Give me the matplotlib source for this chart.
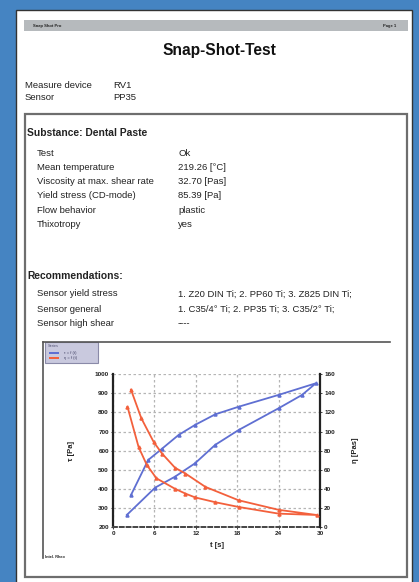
import matplotlib
matplotlib.use("Agg")
import matplotlib.pyplot as plt
from matplotlib.patches import Rectangle

plt.rcParams['font.family'] = ['Liberation Sans', 'DejaVu Sans']

# report text
device_rows = ["Measure device", "Sensor"]
device_vals = ["RV1", "PP35"]
subst_rows = ["Test", "Mean temperature", "Viscosity at max. shear rate",
              "Yield stress (CD-mode)", "Flow behavior", "Thixotropy"]
subst_vals = ["Ok", "219.26 [°C]", "32.70 [Pas]", "85.39 [Pa]", "plastic", "yes"]
rec_rows = ["Sensor yield stress", "Sensor general", "Sensor high shear"]
rec_vals = ["1. Z20 DIN Ti; 2. PP60 Ti; 3. Z825 DIN Ti;",
            "1. C35/4° Ti; 2. PP35 Ti; 3. C35/2° Ti;", "----"]

# chart data
tau_t = [2.0, 6.1, 9.0, 11.9, 14.8, 18.2, 24.0, 27.4, 29.4,
         24.0, 18.2, 14.8, 11.9, 9.5, 7.1, 5.1, 2.6]
tau_val = [263, 406, 464, 534, 630, 708, 822, 892, 953,
           892, 830, 790, 735, 682, 610, 551, 367]
eta_t = [2.6, 4.1, 5.9, 7.1, 9.0, 10.5, 13.4, 18.2, 24.0, 29.5,
         24.0, 18.2, 14.8, 11.9, 10.5, 9.0, 6.3, 4.9, 3.7, 2.1]
eta_val = [144, 114, 89, 77, 62, 56, 42, 28, 18, 12.6,
           14, 21, 26, 31, 35, 40, 51, 65, 84, 126]
x_ticks = [0, 6, 12, 18, 24, 30]
left_ticks = [200, 300, 400, 500, 600, 700, 800, 900, 1000]
right_ticks = [0, 20, 40, 60, 80, 100, 120, 140, 160]

W, H = 419, 582
BLUE = '#5f6fd2'
RED = '#f3603c'
DARK = '#222222'
ROW_FS = 6.8

fig = plt.figure(figsize=(W / 100, H / 100), dpi=100)
fig.patch.set_facecolor('#4584c2')

# page drawn in pixel coordinates
bg = fig.add_axes([0, 0, 1, 1])
bg.set_xlim(0, W)
bg.set_ylim(H, 0)
bg.axis('off')
bg.add_patch(Rectangle((16, 10), 396, 574, facecolor='white', edgecolor='#333333', lw=1))
bg.add_patch(Rectangle((24, 20), 384, 11, facecolor='#b6babd', edgecolor='none'))
bg.text(33, 25.5, "Snap Shot Pro", fontsize=3, fontweight='bold', va='center', color=DARK)
bg.text(396, 25.5, "Page 1", fontsize=3, fontweight='bold', va='center', ha='right', color=DARK)
bg.text(219, 51, "Snap-Shot-Test", fontsize=11.2, fontweight='bold', ha='center', va='center', color='#111111')

for i, (r, v) in enumerate(zip(device_rows, device_vals)):
    bg.text(25, 85 + i * 12, r, fontsize=ROW_FS, va='center', color=DARK)
    bg.text(113, 85 + i * 12, v, fontsize=ROW_FS, va='center', color=DARK)

bg.add_patch(Rectangle((25, 114), 382, 463, facecolor='none', edgecolor='#6e6e6e', lw=1.6))
bg.text(27, 133, "Substance: Dental Paste", fontsize=7.4, fontweight='bold', va='center', color=DARK)
for i, (r, v) in enumerate(zip(subst_rows, subst_vals)):
    bg.text(37, 153 + i * 14.3, r, fontsize=ROW_FS, va='center', color=DARK)
    bg.text(178, 153 + i * 14.3, v, fontsize=ROW_FS, va='center', color=DARK)

bg.text(27, 276, "Recommendations:", fontsize=7.4, fontweight='bold', va='center', color=DARK)
for i, (r, v) in enumerate(zip(rec_rows, rec_vals)):
    bg.text(37, 294 + i * 15, r, fontsize=ROW_FS, va='center', color=DARK)
    bg.text(178, 294 + i * 15, v, fontsize=ROW_FS, va='center', color=DARK)

# chart frame
bg.plot([43, 390], [342, 342], color='#555555', lw=1.2)
bg.plot([43, 43], [342, 558], color='#555555', lw=1.2)
bg.text(45, 557, "Intel. Rheo", fontsize=2.8, fontweight='bold', va='center', color=DARK)

# legend box
bg.add_patch(Rectangle((45, 342), 53, 21, facecolor='#c9c9de', edgecolor='#8a8aa8', lw=0.8))
bg.text(48, 346, "Series", fontsize=2.8, va='center', color='#555577')
bg.add_patch(Rectangle((49, 351.5), 10, 2.5, facecolor=BLUE, edgecolor='none'))
bg.add_patch(Rectangle((49, 356.5), 10, 2.5, facecolor=RED, edgecolor='none'))
bg.text(64, 352.8, "τ = f (t)", fontsize=3, va='center', color='#444466')
bg.text(64, 357.8, "η = f (t)", fontsize=3, va='center', color='#444466')

# plot axes
x0, x1, y0, y1 = 113, 320, 374.3, 527
ax = fig.add_axes([x0 / W, 1 - y1 / H, (x1 - x0) / W, (y1 - y0) / H])
ax.patch.set_alpha(0)
ax.set_xlim(0, 30)
ax.set_ylim(200, 1000)
ax.set_xticks(x_ticks)
ax.set_yticks(left_ticks)
ax.grid(True, color='#b5b5b5', linestyle=(0, (2, 2)), lw=0.9)
ax.spines['top'].set_visible(False)
ax.spines['right'].set_visible(False)
ax.spines['left'].set_color(DARK)
ax.spines['left'].set_linewidth(1.6)
ax.spines['bottom'].set_color('#444444')
ax.spines['bottom'].set_linestyle((0, (2, 1.5)))
ax.spines['bottom'].set_linewidth(1.4)
ax.tick_params(labelsize=4.6, length=1.5, width=0.6, pad=1.5, colors=DARK)
for lab in ax.get_xticklabels() + ax.get_yticklabels():
    lab.set_fontweight('bold')
ax.set_xlabel("t [s]", fontsize=5.5, fontweight='bold', labelpad=4, color=DARK)
ax.set_ylabel("τ [Pa]", fontsize=5.5, fontweight='bold', labelpad=14, color=DARK)
ax.plot(tau_t, tau_val, color=BLUE, lw=1.3, marker='^', ms=2.2, zorder=3)

ax2 = ax.twinx()
ax2.set_ylim(0, 160)
ax2.set_yticks(right_ticks)
for s in ['top', 'left', 'bottom']:
    ax2.spines[s].set_visible(False)
ax2.spines['right'].set_color(DARK)
ax2.spines['right'].set_linewidth(1.6)
ax2.tick_params(labelsize=4.6, length=1.5, width=0.6, pad=1.5, colors=DARK)
for lab in ax2.get_yticklabels():
    lab.set_fontweight('bold')
ax2.set_ylabel("η [Pas]", fontsize=5.5, fontweight='bold', labelpad=12, color=DARK)
ax2.plot(eta_t, eta_val, color=RED, lw=1.3, marker='^', ms=2.2, zorder=3)

fig.savefig("out.png", dpi=100, facecolor=fig.get_facecolor())
